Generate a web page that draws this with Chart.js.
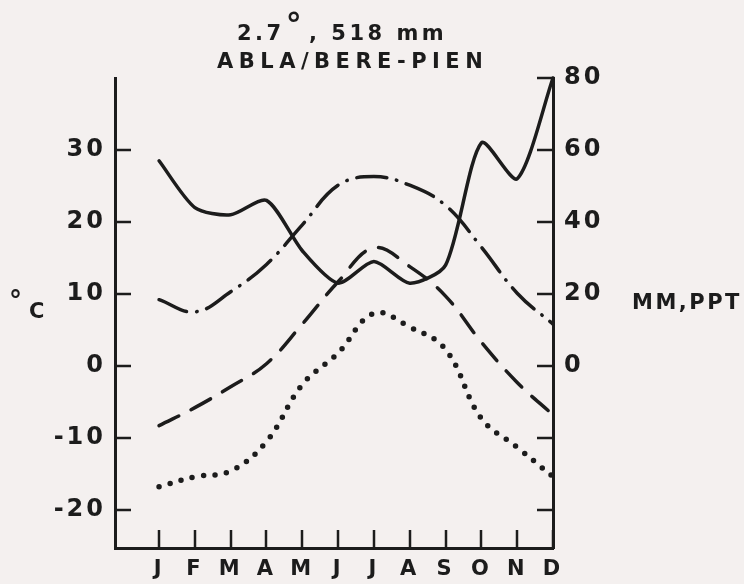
<!DOCTYPE html>
<html>
<head>
<meta charset="utf-8">
<script src="https://cdn.jsdelivr.net/npm/chart.js@4/dist/chart.umd.min.js"></script>
<style>
  html, body { margin: 0; padding: 0; background: #f4f0ef; }
  canvas { display: block; }
</style>
</head>
<body>
<canvas id="climate" width="744" height="584"></canvas>
<script>
// Monthly climate summary: temperatures (left axis, °C) and precipitation (right axis, mm)
const MONTHS = ['J', 'F', 'M', 'A', 'M', 'J', 'J', 'A', 'S', 'O', 'N', 'D'];
const PRECIP_MM = [57, 44, 42, 46, 32, 23, 29, 23, 28, 62, 52, 80];
const TEMP_MAX  = [9.2, 7.5, 10.3, 14.1, 19.6, 25.1, 26.3, 25.1, 22.3, 16.5, 10.1, 5.8];
const TEMP_MEAN = [-8.3, -5.8, -2.9, 0.3, 5.8, 11.7, 16.4, 13.8, 9.7, 3.3, -2.3, -6.8];
const TEMP_MIN  = [-16.8, -15.4, -14.6, -10.5, -2.6, 1.8, 7.3, 5.4, 2.3, -7.3, -11.3, -15.4];
const TEMP_TICKS = [-20, -10, 0, 10, 20, 30];
const PRECIP_TICKS = [-40, -20, 0, 20, 40, 60, 80];
const TITLE_TEMP = '2.7';
const TITLE_DEGREE = '°';
const TITLE_PRECIP = ', 518 mm';
const TITLE_SITE = 'ABLA/BERE-PIEN';
const TEMP_UNIT = 'C';
const PRECIP_UNIT = 'MM,PPT';

const INK = '#1c1c1c';
const FONT = '"DejaVu Sans"';
const toPoints = arr => arr.map((v, i) => ({ x: i, y: v }));

// Inward-facing tick marks on all three axes
const inwardTicks = {
  id: 'inwardTicks',
  afterDraw(chart) {
    const { ctx, chartArea, scales } = chart;
    ctx.save();
    ctx.strokeStyle = INK;
    ctx.lineWidth = 2.5;
    ctx.beginPath();
    scales.y.ticks.forEach(t => {
      const py = Math.round(scales.y.getPixelForValue(t.value));
      ctx.moveTo(chartArea.left, py);
      ctx.lineTo(chartArea.left + 16, py);
    });
    scales.y2.ticks.forEach(t => {
      const py = Math.round(scales.y2.getPixelForValue(t.value));
      ctx.moveTo(chartArea.right - 16, py);
      ctx.lineTo(chartArea.right, py);
    });
    scales.x.ticks.forEach(t => {
      const px = Math.round(scales.x.getPixelForValue(t.value));
      ctx.moveTo(px, chartArea.bottom);
      ctx.lineTo(px, chartArea.bottom - 18);
    });
    ctx.stroke();
    ctx.restore();
  }
};

// Spaced lettering for axis numbers, plus titles and unit labels
const lettering = {
  id: 'lettering',
  beforeDraw(chart) {
    chart.ctx.letterSpacing = '3px';
  },
  afterDraw(chart) {
    const ctx = chart.ctx;
    ctx.save();
    ctx.fillStyle = INK;
    ctx.textAlign = 'left';
    ctx.textBaseline = 'alphabetic';

    // title line 1
    ctx.font = 'bold 21px ' + FONT;
    ctx.letterSpacing = '3.5px';
    ctx.fillText(TITLE_TEMP, 237, 40);
    const degX = 237 + ctx.measureText(TITLE_TEMP).width;
    ctx.font = 'bold 32px ' + FONT;
    ctx.letterSpacing = '0px';
    ctx.fillText(TITLE_DEGREE, degX + 1, 36);
    ctx.font = 'bold 21px ' + FONT;
    ctx.letterSpacing = '3.5px';
    ctx.fillText(TITLE_PRECIP, 309, 40);

    // title line 2
    ctx.letterSpacing = '5.5px';
    ctx.fillText(TITLE_SITE, 217, 68);

    // left unit: °C
    ctx.letterSpacing = '0px';
    ctx.font = 'bold 26px ' + FONT;
    ctx.fillText(TITLE_DEGREE, 9, 309);
    ctx.font = 'bold 21px ' + FONT;
    ctx.fillText(TEMP_UNIT, 29, 318);

    // right unit
    ctx.letterSpacing = '2.5px';
    ctx.fillText(PRECIP_UNIT, 632, 309);
    ctx.restore();
    ctx.letterSpacing = '0px';
  }
};

const axisBorder = { display: true, width: 3, color: INK };

new Chart(document.getElementById('climate'), {
  type: 'line',
  data: {
    datasets: [
      {
        label: 'Precipitation',
        data: toPoints(PRECIP_MM),
        yAxisID: 'y2',
        borderColor: INK,
        borderWidth: 3.5,
        tension: 0.25,
        borderCapStyle: 'round',
        borderJoinStyle: 'round'
      },
      {
        label: 'Maximum temperature',
        data: toPoints(TEMP_MAX),
        yAxisID: 'y',
        borderColor: INK,
        borderWidth: 3.5,
        tension: 0.4,
        borderDash: [30, 10, 0.5, 10],
        borderCapStyle: 'round'
      },
      {
        label: 'Mean temperature',
        data: toPoints(TEMP_MEAN),
        yAxisID: 'y',
        borderColor: INK,
        borderWidth: 3.5,
        tension: 0.4,
        borderDash: [22, 14],
        borderCapStyle: 'round'
      },
      {
        label: 'Minimum temperature',
        data: toPoints(TEMP_MIN),
        yAxisID: 'y',
        borderColor: INK,
        borderWidth: 5.5,
        tension: 0.4,
        borderDash: [0, 11.5],
        borderCapStyle: 'round'
      }
    ]
  },
  options: {
    responsive: false,
    animation: false,
    devicePixelRatio: 1,
    clip: false,
    layout: { padding: { top: 78, left: 0, right: 0, bottom: 0 } },
    elements: { point: { radius: 0 } },
    plugins: {
      legend: { display: false },
      tooltip: { enabled: false },
      title: { display: false }
    },
    scales: {
      x: {
        type: 'linear',
        position: 'bottom',
        min: -1.23,
        max: 11,
        afterBuildTicks: s => { s.ticks = MONTHS.map((m, i) => ({ value: i })); },
        afterFit: s => { s.height = 36; },
        ticks: {
          callback: v => MONTHS[v],
          autoSkip: false,
          maxRotation: 0,
          padding: 9,
          color: INK,
          font: { family: 'DejaVu Sans', weight: 'bold', size: 21 }
        },
        grid: { display: false, drawTicks: false },
        border: axisBorder
      },
      y: {
        type: 'linear',
        position: 'left',
        min: -25.3,
        max: 40,
        afterBuildTicks: s => { s.ticks = TEMP_TICKS.map(v => ({ value: v })); },
        afterFit: s => { s.width = 115; },
        ticks: {
          padding: 9,
          color: INK,
          font: { family: 'DejaVu Sans', weight: 'bold', size: 24 }
        },
        grid: { display: false, drawTicks: false },
        border: axisBorder
      },
      y2: {
        type: 'linear',
        position: 'right',
        min: -50.6,
        max: 80,
        afterBuildTicks: s => { s.ticks = PRECIP_TICKS.map(v => ({ value: v })); },
        afterFit: s => { s.width = 191; },
        ticks: {
          callback: v => (v < 0 ? '' : String(v)),
          padding: 11,
          color: INK,
          font: { family: 'DejaVu Sans', weight: 'bold', size: 24 }
        },
        grid: { display: false, drawTicks: false },
        border: axisBorder
      }
    }
  },
  plugins: [inwardTicks, lettering]
});
</script>
</body>
</html>
